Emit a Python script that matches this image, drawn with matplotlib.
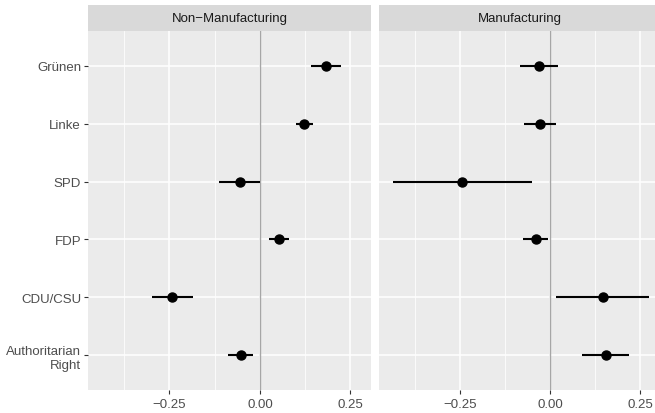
import matplotlib
matplotlib.use("Agg")
import matplotlib.pyplot as plt
import numpy as np

plt.rcParams['font.family'] = ['Liberation Sans', 'DejaVu Sans']

categories = ["Authoritarian\nRight", "CDU/CSU", "FDP", "SPD", "Linke", "Grünen"]
facets = ["Non\u2212Manufacturing", "Manufacturing"]

nonman_est = [-0.053, -0.242, 0.052, -0.055, 0.121, 0.182]
nonman_lo = [-0.088, -0.299, 0.026, -0.113, 0.099, 0.141]
nonman_hi = [-0.020, -0.184, 0.081, 0.000, 0.146, 0.223]

man_est = [0.154, 0.145, -0.041, -0.244, -0.028, -0.030]
man_lo = [0.087, 0.016, -0.077, -0.436, -0.073, -0.084]
man_hi = [0.219, 0.273, -0.005, -0.052, 0.016, 0.021]

xticks = [-0.25, 0.0, 0.25]
xticklabels = ["\u22120.25", "0.00", "0.25"]
xminor = [-0.375, -0.125, 0.125]

W, H = 655, 414
fig = plt.figure(figsize=(W / 100, H / 100), dpi=100)
fig.patch.set_facecolor("white")

panel_top, panel_bot = 32, 391
strip_top = 6
panels = [(88, 371), (379, 661)]
data = [(nonman_est, nonman_lo, nonman_hi), (man_est, man_lo, man_hi)]
xlim = (-0.475, 0.307)

y = np.arange(1, len(categories) + 1)

for i, ((x0, x1), (est, lo, hi), title) in enumerate(zip(panels, data, facets)):
    ax = fig.add_axes([x0 / W, 1 - panel_bot / H, (x1 - x0) / W, (panel_bot - panel_top) / H])
    ax.set_facecolor("#EBEBEB")
    for s in ax.spines.values():
        s.set_visible(False)
    ax.set_xlim(*xlim)
    ax.set_ylim(0.4, 6.6)
    ax.set_axisbelow(True)
    for xv in xticks:
        ax.axvline(xv, color="white", lw=1.1, zorder=0)
    for xv in xminor:
        ax.axvline(xv, color="white", lw=0.55, zorder=0)
    for yv in y:
        ax.axhline(yv, color="white", lw=1.1, zorder=0)
    ax.axvline(0, color="#A6A6A6", lw=1.0, zorder=1)
    ax.hlines(y, lo, hi, color="black", lw=1.5, zorder=2)
    ax.plot(est, y, "o", color="black", ms=6.5, zorder=3)
    ax.set_xticks(xticks)
    ax.set_xticklabels(xticklabels)
    ax.set_yticks(y)
    if i == 0:
        ax.set_yticklabels(categories, ha="right")
    else:
        ax.set_yticklabels([])
    ax.tick_params(axis="both", colors="#333333", length=3, width=0.8,
                   labelcolor="#4D4D4D", labelsize=9.5, pad=2)
    ax.tick_params(axis="x", pad=3)
    ax.tick_params(axis="y", left=(i == 0), labelleft=(i == 0))

    sax = fig.add_axes([x0 / W, 1 - panel_top / H, (x1 - x0) / W, (panel_top - strip_top) / H])
    sax.set_facecolor("#D9D9D9")
    for s in sax.spines.values():
        s.set_visible(False)
    sax.set_xticks([])
    sax.set_yticks([])
    cx = 0.5 if i == 0 else ((x0 + x1) / 2) / ((x0 + x1) / 2)
    sax.text(0.5, 0.5, title, ha="center", va="center", fontsize=9.5, color="#1A1A1A",
             transform=sax.transAxes)

fig.savefig("out.png", dpi=100)
